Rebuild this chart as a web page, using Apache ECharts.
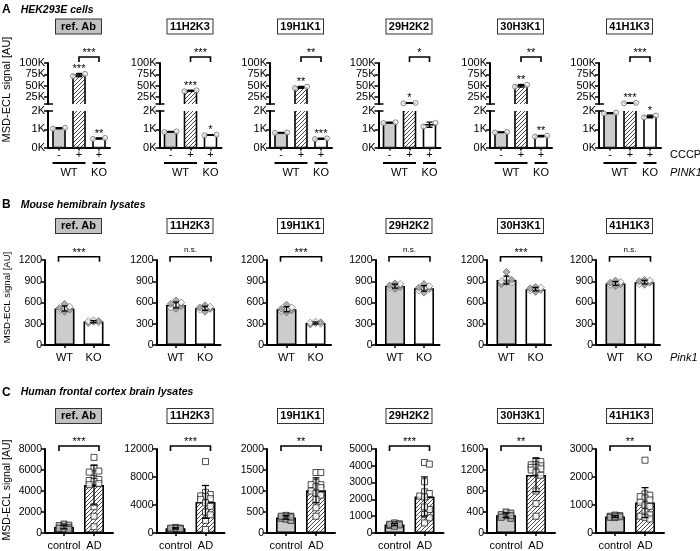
<!DOCTYPE html>
<html><head><meta charset="utf-8">
<script src="https://cdn.jsdelivr.net/npm/echarts@6/dist/echarts.min.js"></script>
<style>html,body{margin:0;padding:0;background:#fff}#c{width:700px;height:551px}</style>
</head><body><div id="c"></div>
<script>
// ---------------- DATA ----------------
const panelNames = ['ref. Ab','11H2K3','19H1K1','29H2K2','30H3K1','41H1K3'];

// A: HEK293E cells
const hekCategories = ['-','+','+'];
const hekGroups = [['WT',0,1],['KO',2,2]];
const hekCtrl = [[1030,1080],[850,880],[800,820],[1340,1380],[820,850],[1860,1900]];
const hekCCCP = [[71000,76000],[38000,40000],[45000,48000],[11500,12500],[48000,52000],[11500,12500]];
const hekKO   = [[470,520],[670,700],[460,500],[1150,1350],[600,650],[1650,1750]];
const hekStarsCCCP = ['***','***','**','*','**','***'];
const hekStarsKO   = ['**','*','***','','**','*'];
const hekStarsPair = ['***','***','**','*','**','***'];
const hekUpperTicks = [25000,50000,75000,100000];
const hekLowerTicks = [0,1000,2000];

// B: Mouse hemibrain lysates
const mouseCategories = ['WT','KO'];
const mouseWT = [
  [470,490,500,510,520,540,580],
  [510,530,550,560,580,600,630],
  [460,480,490,500,510,530,570],
  [790,810,820,830,840,860,870],
  [860,880,890,900,920,940,1030],
  [830,850,860,870,880,890,910]
];
const mouseKO = [
  [310,320,330,335,340,350],
  [470,500,510,520,530,540,560],
  [290,300,310,315,320,330],
  [740,770,790,800,810,830,860],
  [750,770,780,790,800,810,820],
  [850,860,880,890,900,910,920]
];
const mouseStars = ['***','n.s.','***','n.s.','***','n.s.'];
const mouseTicks = [0,300,600,900,1200];

// C: Human frontal cortex brain lysates
const humanCategories = ['control','AD'];
const humanCtrl = [
  [850,750,700,600,500,450,400,350],
  [800,700,650,600,550,700],
  [420,400,380,350,330,300,400,380],
  [600,550,500,450,480,520,400],
  [400,380,350,330,300,280,330],
  [640,620,600,580,560,550,600]
];
const humanAD = [
  [7200,6200,5900,5800,5200,5100,5000,4900,4700,4600,2500,1600,600],
  [10200,5800,5500,5300,5200,4900,4800,4300,3800,3000,2600,1800,500],
  [1440,1440,1200,1150,1150,1100,1080,1000,950,900,800,600,400],
  [4200,4100,3050,2450,2350,2200,2150,1400,1550,1100,900,600],
  [1380,1360,1300,1300,1280,1250,1250,1220,1200,1160,1100,800,560,320],
  [2600,1400,1350,1300,1250,1180,1100,1000,950,760,650,600,560,500]
];
const humanMax = [8000,12000,2000,5000,1600,3000];
const humanInterval = [2000,4000,500,1000,400,1000];
const humanStars = ['***','***','**','***','**','**'];

// ---------------- LAYOUT / STYLE ----------------
const FONT = '"Liberation Sans", Arial, Helvetica, sans-serif';
const PC = [79, 190.5, 301, 409.5, 521, 630];

// diagonal "////" hatch tile
const hatchCanvas = document.createElement('canvas');
hatchCanvas.width = 4; hatchCanvas.height = 4;
(function(){
  const ctx = hatchCanvas.getContext('2d');
  ctx.fillStyle = '#fff'; ctx.fillRect(0,0,4,4);
  ctx.strokeStyle = '#333'; ctx.lineWidth = 0.9;
  ctx.beginPath();
  ctx.moveTo(-1,5); ctx.lineTo(5,-1);
  ctx.moveTo(-1,1); ctx.lineTo(1,-1);
  ctx.moveTo(3,5); ctx.lineTo(5,3);
  ctx.stroke();
})();
const HATCH_FILL = {image:hatchCanvas, repeat:'repeat'};
const STY = {
  gray:{color:'#cccccc', borderColor:'#000', borderWidth:1.6},
  hatch:{color:HATCH_FILL, borderColor:'#000', borderWidth:1.6},
  white:{color:'#ffffff', borderColor:'#000', borderWidth:1.6}
};
const mean = a => a.reduce((s,v)=>s+v,0)/a.length;
const sd = a => { const m = mean(a); return Math.sqrt(a.reduce((s,v)=>s+(v-m)*(v-m),0)/(a.length-1)); };
const maxOf = a => Math.max.apply(null, a);

const option = {animation:false, backgroundColor:'#fff', grid:[], xAxis:[], yAxis:[], series:[], title:[], graphic:[]};

function addGrid(g){ option.grid.push(Object.assign({outerBoundsMode:'none', containLabel:false}, g)); return option.grid.length-1; }
function mkX(gi, min, max, cats, show, fs, margin){
  const vals = cats.map((c,i)=>i);
  option.xAxis.push({type:'value', gridIndex:gi, min, max, show,
    axisLine:{show:true, onZero:false, lineStyle:{color:'#000', width:2}},
    axisTick:{show:true, length:3, customValues:vals, lineStyle:{color:'#000', width:1.5}},
    axisLabel:{show:true, customValues:vals, formatter:v=>cats[Math.round(v)], color:'#000', fontSize:fs, fontFamily:FONT, margin},
    splitLine:{show:false}});
  return option.xAxis.length-1;
}
function mkY(gi, o){
  option.yAxis.push({type:'value', gridIndex:gi, position:'left', min:o.min, max:o.max,
    axisLine:{show:true, onZero:false, lineStyle:{color:'#000', width:2}},
    axisTick:{show:true, length:4, customValues:o.ticks, lineStyle:{color:'#000', width:1.5}},
    axisLabel:{color:'#000', fontSize:o.fs, fontFamily:FONT, margin:3, formatter:o.fmt, customValues:o.labels},
    splitLine:{show:false}});
  return option.yAxis.length-1;
}
function mkYBreak(gi, min, max, vals){
  option.yAxis.push({type:'value', gridIndex:gi, position:'left', min, max,
    axisLine:{show:false, onZero:false}, axisLabel:{show:false}, splitLine:{show:false},
    axisTick:{show:true, inside:true, length:5, customValues:vals, lineStyle:{color:'#000', width:1.5}}});
}
function barSeries(xi, yi, data, styles, w){
  return {type:'bar', xAxisIndex:xi, yAxisIndex:yi, barWidth:w, clip:true, silent:true, z:2,
    data:data.map((d,i)=>({value:d, itemStyle:styles[i]}))};
}
// bars of the broken axis: clipped by the grid so the ends at the break stay open
function brokenBarSeries(xi, yi, data, styles, w){
  return {type:'custom', xAxisIndex:xi, yAxisIndex:yi, clip:true, silent:true, z:2, encode:{x:0, y:1}, data,
    renderItem:(params, api)=>{
      const x = api.value(0), m = api.value(1);
      const top = api.coord([x, m]), base = api.coord([x, 0]);
      const st = styles[params.dataIndex];
      return {type:'rect', shape:{x:top[0]-w/2, y:top[1], width:w, height:base[1]-top[1]},
        style:{fill:st.color, stroke:st.borderColor, lineWidth:st.borderWidth}};
    }};
}
function errSeries(xi, yi, data, cap){
  return {type:'custom', xAxisIndex:xi, yAxisIndex:yi, clip:true, silent:true, z:6, encode:{x:0, y:1}, data,
    renderItem:(params, api)=>{
      const x = api.value(0), m = api.value(1), s = api.value(2);
      const t = api.coord([x, m+s]), b = api.coord([x, m-s]);
      const st = {stroke:'#000', lineWidth:1.3};
      return {type:'group', children:[
        {type:'line', shape:{x1:t[0], y1:t[1], x2:b[0], y2:b[1]}, style:st},
        {type:'line', shape:{x1:t[0]-cap, y1:t[1], x2:t[0]+cap, y2:t[1]}, style:st},
        {type:'line', shape:{x1:b[0]-cap, y1:b[1], x2:b[0]+cap, y2:b[1]}, style:st}
      ]};
    }};
}
function scatterSeries(xi, yi, pts, symbol, size){
  return {type:'scatter', xAxisIndex:xi, yAxisIndex:yi, clip:true, silent:true, z:5, symbol, symbolSize:size, data:pts};
}
function textSeries(xi, yi, items){
  return {type:'custom', xAxisIndex:xi, yAxisIndex:yi, clip:false, silent:true, z:7, encode:{x:0, y:1},
    data:items.map(t=>[t[0], t[1]]),
    renderItem:(params, api)=>{
      const p = api.coord([api.value(0), api.value(1)]);
      return {type:'text', x:p[0], y:p[1]+1, style:{text:items[params.dataIndex][2], fontSize:11, fontFamily:FONT, fill:'#000', textAlign:'center', textVerticalAlign:'bottom'}};
    }};
}
function bracketSeries(xi, yi, x1, x2, yv, text, dy, leg, pad){
  const star = text.indexOf('*') >= 0;
  return {type:'custom', xAxisIndex:xi, yAxisIndex:yi, clip:false, silent:true, z:7, encode:{x:[0,1], y:2},
    data:[[x1, x2, yv]],
    renderItem:(params, api)=>{
      const a = api.coord([api.value(0), api.value(2)]), b = api.coord([api.value(1), api.value(2)]);
      const y = a[1] + dy, xa = a[0]-pad, xb = b[0]+pad;
      return {type:'group', children:[
        {type:'polyline', shape:{points:[[xa,y+leg],[xa,y],[xb,y],[xb,y+leg]]}, style:{stroke:'#000', lineWidth:1.6, fill:null}},
        {type:'text', x:(xa+xb)/2, y: star ? y+1.5 : y-2.5, style:{text, fontSize: star?11:8, fontFamily:FONT, fill:'#000', textAlign:'center', textVerticalAlign:'bottom'}}
      ]};
    }};
}
function swarm(vals, pxPerVal, sym, maxOff){
  const order = vals.map((v,i)=>i).sort((a,b)=>vals[b]-vals[a]);
  const placed = [], offs = new Array(vals.length).fill(0);
  const step = sym*0.8, cands = [0];
  for (let k=1;k<=6;k++){ cands.push(k*step, -k*step); }
  for (const i of order){
    const y = vals[i]*pxPerVal;
    let best = 0, bestScore = Infinity;
    for (const c of cands){
      if (Math.abs(c) > maxOff) continue;
      let ov = 0;
      for (const q of placed){ const d = Math.hypot(q.x-c, q.y-y); if (d < sym*0.85) ov += sym*0.85-d; }
      if (ov === 0){ best = c; bestScore = 0; break; }
      if (ov < bestScore){ bestScore = ov; best = c; }
    }
    offs[i] = best; placed.push({x:best, y});
  }
  return offs;
}
function panelBox(name, cx, cy){
  const ref = name === 'ref. Ab';
  option.title.push({left: cx-23, top: cy-7.5, padding:0,
    text:'{b|'+name+'}',
    textStyle:{rich:{b:{width:41, height:12, lineHeight:12, align:'center', verticalAlign:'middle', padding:[1,2],
      fontSize:11, fontFamily:FONT, color:'#000', backgroundColor: ref?'#c2c2c2':'#fff', borderColor:'#333', borderWidth:1}}}});
}
function heading(letter, text, y){
  option.title.push({left:2, top:y-7, padding:0, text:'{l|'+letter+'}  {t|'+text+'}',
    textStyle:{rich:{l:{fontSize:12, fontWeight:'bold', fontFamily:FONT, color:'#000'}, t:{fontSize:10.5, fontWeight:'bold', fontStyle:'italic', fontFamily:FONT, color:'#000'}}}});
}
function gText(text, x, y, o, rot){
  option.graphic.push({type:'text', x, y, rotation: rot || 0, silent:true,
    style:Object.assign({text, fontFamily:FONT, fontSize:11, fill:'#000', textAlign:'left', textVerticalAlign:'middle'}, o||{})});
}

// ---------------- ROW A ----------------
heading('A', 'HEK293E cells', 8);
const A_UNIT = 20, A_OFF = 31;
PC.forEach((c, p) => {
  panelBox(panelNames[p], c, 28);
  const left = c - A_OFF, width = 2*A_OFF;
  const xmin = 1 - A_OFF/A_UNIT, xmax = 1 + A_OFF/A_UNIT;
  const groups = [hekCtrl[p], hekCCCP[p], hekKO[p]];
  const ptStyle = {color:'#fff', borderColor:'#666', borderWidth:1};
  const segs = [
    {top:63, height:41, min:10000, max:100000, ticks:[10000].concat(hekUpperTicks), labels:hekUpperTicks, brk:[10000], showX:false},
    {top:111, height:36.5, min:0, max:2000, ticks:hekLowerTicks, labels:hekLowerTicks, brk:[2000], showX:true}
  ];
  segs.forEach((s, si) => {
    const gi = addGrid({left, width, top:s.top, height:s.height});
    const xi = mkX(gi, xmin, xmax, hekCategories, s.showX, 11, 2);
    const yi = mkY(gi, {min:s.min, max:s.max, ticks:s.ticks, labels:s.labels, fs:11, fmt:v=>(v/1000)+'K'});
    mkYBreak(gi, s.min, s.max, s.brk);
    option.series.push(brokenBarSeries(xi, yi, groups.map((g,i)=>[i, mean(g)]), [STY.gray, STY.hatch, STY.white], 12));
    const pts = [];
    groups.forEach((g,i)=>g.forEach((v,k)=>{ if (v >= s.min && v <= s.max) pts.push({value:[i + (k-(g.length-1)/2)*12/A_UNIT, v], itemStyle:ptStyle}); }));
    option.series.push(scatterSeries(xi, yi, pts, 'circle', 5));
    option.series.push(errSeries(xi, yi, groups.map((g,i)=>[i, mean(g), sd(g)]).filter(d=>d[1]>=s.min && d[1]<=s.max), 3));
    if (si === 0){
      option.series.push(textSeries(xi, yi, [[1, maxOf(hekCCCP[p]), hekStarsCCCP[p]]]));
      option.series.push(bracketSeries(xi, yi, 1, 2, s.max, hekStarsPair[p], -6, 5, 0));
    } else {
      if (hekStarsKO[p]) option.series.push(textSeries(xi, yi, [[2, maxOf(hekKO[p]), hekStarsKO[p]]]));
      option.series.push({type:'custom', xAxisIndex:xi, yAxisIndex:yi, clip:false, silent:true, z:7, encode:{x:0, y:1},
        data:hekGroups.map(g=>[g[1], g[2]]),
        renderItem:(params, api)=>{
          const g = hekGroups[params.dataIndex];
          const a = api.coord([g[1], 0]), b = api.coord([g[2], 0]);
          const y = a[1] + 15.5;
          return {type:'group', children:[
            {type:'line', shape:{x1:a[0]-6.5, y1:y, x2:b[0]+6.5, y2:y}, style:{stroke:'#000', lineWidth:2}},
            {type:'text', x:(a[0]+b[0])/2, y:y+9.5, style:{text:g[0], fontSize:11, fontFamily:FONT, fill:'#000', textAlign:'center', textVerticalAlign:'middle'}}
          ]};
        }});
    }
  });
});
gText('CCCP', 670, 155);
gText('PINK1', 670, 172.5, {fontStyle:'italic'});
gText('MSD-ECL signal [AU]', 7, 89.5, {textAlign:'center', fontSize:11}, Math.PI/2);

// ---------------- ROW B ----------------
heading('B', 'Mouse hemibrain lysates', 203);
const B_UNIT = 29, B_L = 34, B_R = 30, B_TOP = 260, B_H = 85;
PC.forEach((c, p) => {
  panelBox(panelNames[p], c, 227.5);
  const gi = addGrid({left:c-B_L, width:B_L+B_R, top:B_TOP, height:B_H});
  const xi = mkX(gi, 0.5 - B_L/B_UNIT, 0.5 + B_R/B_UNIT, mouseCategories, true, 11, 7);
  const yi = mkY(gi, {min:0, max:1200, ticks:mouseTicks, labels:mouseTicks, fs:10.5, fmt:v=>String(v)});
  const groups = [mouseWT[p], mouseKO[p]];
  option.series.push(barSeries(xi, yi, groups.map((g,i)=>[i, mean(g)]), [STY.gray, STY.white], 20));
  const pts = [];
  groups.forEach((g,i)=>{
    const offs = swarm(g, B_H/1200, 6.5, 9);
    g.forEach((v,k)=>pts.push({value:[i + offs[k]/B_UNIT, v], itemStyle:{color: (k%2===0)?'#9a9a9a':'#ffffff', borderColor:'#555', borderWidth:0.8}}));
  });
  option.series.push(scatterSeries(xi, yi, pts, 'diamond', 7));
  option.series.push(errSeries(xi, yi, groups.map((g,i)=>[i, mean(g), sd(g)]), 3));
  option.series.push(bracketSeries(xi, yi, 0, 1, 1200, mouseStars[p], -3.3, 5, 6));
});
gText('Pink1', 670, 358, {fontStyle:'italic'});
gText('MSD-ECL signal [AU]', 7, 297.5, {textAlign:'center', fontSize:9.5}, Math.PI/2);

// ---------------- ROW C ----------------
heading('C', 'Human frontal cortex brain lysates', 390.5);
const C_UNIT = 30, C_L = 34, C_R = 34, C_TOP = 449, C_H = 84;
PC.forEach((c, p) => {
  panelBox(panelNames[p], c, 417.5);
  const gi = addGrid({left:c-C_L, width:C_L+C_R, top:C_TOP, height:C_H});
  const xi = mkX(gi, 0.5 - C_L/C_UNIT, 0.5 + C_R/C_UNIT, humanCategories, true, 11, 7);
  const ticks = [];
  for (let v = 0; v <= humanMax[p]; v += humanInterval[p]) ticks.push(v);
  const yi = mkY(gi, {min:0, max:humanMax[p], ticks, labels:ticks, fs:10.5, fmt:v=>String(v)});
  const groups = [humanCtrl[p], humanAD[p]];
  option.series.push(barSeries(xi, yi, groups.map((g,i)=>[i, mean(g)]), [STY.gray, STY.hatch], 20));
  const pts = [];
  groups.forEach((g,i)=>{
    const offs = swarm(g, C_H/humanMax[p], 6, 9);
    g.forEach((v,k)=>pts.push({value:[i + offs[k]/C_UNIT, v], itemStyle:{color: i===0?'#b0b0b0':'#ffffff', borderColor:'#222', borderWidth:1}}));
  });
  option.series.push(scatterSeries(xi, yi, pts, 'rect', 6));
  option.series.push(errSeries(xi, yi, groups.map((g,i)=>[i, mean(g), sd(g)]), 3.5));
  option.series.push(bracketSeries(xi, yi, 0, 1, humanMax[p], humanStars[p], -3, 5, 5));
});
gText('MSD-ECL signal [AU]', 7, 490, {textAlign:'center', fontSize:10.5}, Math.PI/2);

const chart = echarts.init(document.getElementById('c'), null, {renderer:'canvas'});
chart.setOption(option);
</script>
</body></html>
